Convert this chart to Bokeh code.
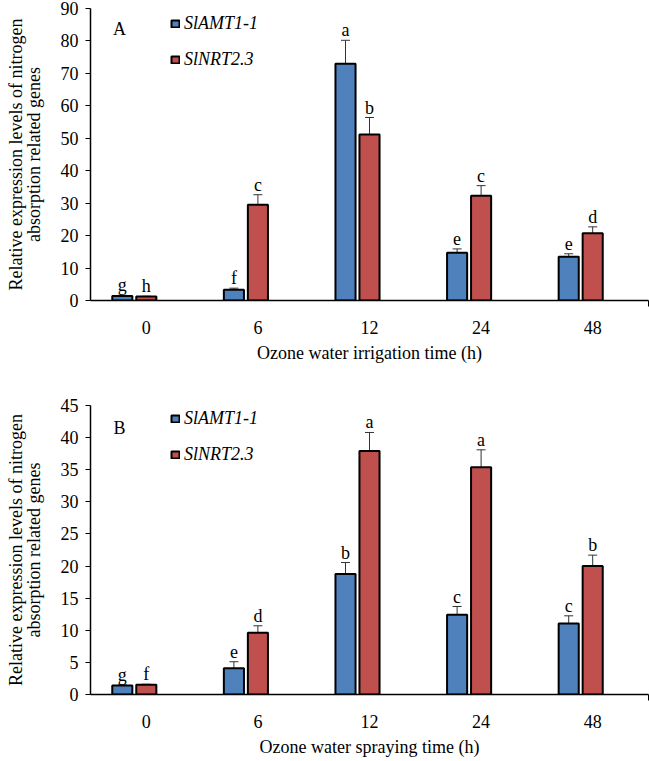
from bokeh.plotting import figure
from bokeh.layouts import column
from bokeh.models import (ColumnDataSource, FixedTicker, Whisker, TeeHead, Legend,
                          LegendItem, Label)
from bokeh.core.properties import value
from bokeh.embed import file_html
from bokeh.resources import INLINE

hours = ["0", "6", "12", "24", "48"]

a_amt = [1.4, 3.3, 73.0, 14.7, 13.5]
a_amt_err = [0.2, 0.5, 7.2, 1.2, 0.9]
a_nrt = [1.2, 29.5, 51.2, 32.3, 20.7]
a_nrt_err = [0.1, 3.1, 5.2, 3.1, 2.0]
a_amt_letters = ["g", "f", "a", "e", "e"]
a_nrt_letters = ["h", "c", "b", "c", "d"]

b_amt = [1.4, 4.1, 18.75, 12.4, 11.05]
b_amt_err = [0.1, 1.0, 1.8, 1.3, 1.2]
b_nrt = [1.5, 9.6, 37.9, 35.4, 20.0]
b_nrt_err = [0.1, 1.1, 2.9, 2.7, 1.7]
b_amt_letters = ["g", "e", "b", "c", "c"]
b_nrt_letters = ["f", "d", "a", "a", "b"]

series_names = ["SlAMT1-1", "SlNRT2.3"]
colors = ["#4F81BD", "#C0504D"]
ytitle = "Relative expression levels of nitrogen\nabsorption related genes"
FONT = "Liberation Serif"
FS = "18px"


def make_panel(amt, amt_err, nrt, nrt_err, amt_let, nrt_let, ymax, ystep,
               xtitle, panel_letter, height, border_top, border_bottom,
               legend_y, letter_y):
    p = figure(width=649, height=height, output_backend="svg", toolbar_location=None,
               x_range=(-0.5, 4.5), y_range=(0, ymax),
               min_border_left=90, min_border_right=1,
               min_border_top=border_top, min_border_bottom=border_bottom)
    p.grid.visible = False
    p.outline_line_color = None

    xs = list(range(len(hours)))
    offsets = [-0.215, 0.0]
    renderers = []
    for vals, errs, lets, off, col in [(amt, amt_err, amt_let, offsets[0], colors[0]),
                                       (nrt, nrt_err, nrt_let, offsets[1], colors[1])]:
        src = ColumnDataSource(dict(
            x=[x + off for x in xs], top=vals,
            upper=[v + e for v, e in zip(vals, errs)],
            lower=[v - e for v, e in zip(vals, errs)],
            let=lets))
        r = p.vbar(x="x", top="top", width=0.18, bottom=0, source=src,
                   fill_color=col, line_color="black", line_width=2)
        renderers.append(r)
        w = Whisker(base="x", upper="upper", lower="lower", source=src,
                    line_color="#333333", line_width=1,
                    upper_head=TeeHead(size=9, line_color="#333333", line_width=1),
                    lower_head=TeeHead(size=9, line_color="#333333", line_width=1))
        p.add_layout(w)
        p.text(x="x", y="upper", text="let", source=src, text_align="center",
               text_baseline="alphabetic", y_offset=-10,
               text_font=value(FONT), text_font_size=FS, text_color="black")

    legend = Legend(items=[LegendItem(label=series_names[0], renderers=[renderers[0]]),
                           LegendItem(label=series_names[1], renderers=[renderers[1]])],
                    location=(80, legend_y), orientation="vertical",
                    background_fill_alpha=0, border_line_color=None,
                    padding=0, margin=0, spacing=14, glyph_width=10, glyph_height=9,
                    label_standoff=4, label_height=22,
                    label_text_font=FONT, label_text_font_style="italic",
                    label_text_font_size=FS, label_text_color="black")
    p.add_layout(legend, "center")

    p.add_layout(Label(x=-0.24, y=letter_y, text=panel_letter, text_font=FONT,
                       text_font_size=FS, text_align="center",
                       text_baseline="middle", text_color="black"))

    # x axis
    xa = p.xaxis[0]
    xa.ticker = FixedTicker(ticks=xs, minor_ticks=[4.5])
    xa.major_label_overrides = {i: h for i, h in enumerate(hours)}
    xa.major_tick_out = 0
    xa.major_tick_in = 0
    xa.minor_tick_out = 6
    xa.minor_tick_in = 0
    xa.minor_tick_line_color = "black"
    xa.axis_line_color = "black"
    xa.axis_line_width = 1.5
    xa.major_label_standoff = 14
    xa.axis_label = xtitle
    xa.axis_label_standoff = 6
    xa.axis_label_text_font = FONT
    xa.axis_label_text_font_style = "normal"
    xa.axis_label_text_font_size = FS
    xa.axis_label_text_color = "black"
    xa.major_label_text_font = FONT
    xa.major_label_text_font_size = FS
    xa.major_label_text_color = "black"

    # y axis
    ya = p.yaxis[0]
    ya.ticker = FixedTicker(ticks=list(range(0, ymax + 1, ystep)))
    ya.major_tick_out = 5
    ya.major_tick_in = 0
    ya.minor_tick_out = 0
    ya.minor_tick_in = 0
    ya.major_tick_line_color = "black"
    ya.axis_line_color = "black"
    ya.axis_line_width = 1.5
    ya.major_label_standoff = 7
    ya.major_label_text_font = FONT
    ya.major_label_text_font_size = FS
    ya.major_label_text_color = "black"
    ya.axis_label = ytitle
    ya.axis_label_standoff = 14
    ya.axis_label_text_font = FONT
    ya.axis_label_text_font_style = "normal"
    ya.axis_label_text_font_size = FS
    ya.axis_label_text_line_height = 0.88
    ya.axis_label_text_color = "black"
    return p


pa = make_panel(a_amt, a_amt_err, a_nrt, a_nrt_err, a_amt_letters, a_nrt_letters,
                90, 10, "Ozone water irrigation time (h)", "A",
                height=378, border_top=8, border_bottom=78,
                legend_y=230, letter_y=83.8)
pb = make_panel(b_amt, b_amt_err, b_nrt, b_nrt_err, b_amt_letters, b_nrt_letters,
                45, 5, "Ozone water spraying time (h)", "B",
                height=381, border_top=27, border_bottom=60,
                legend_y=229, letter_y=41.5)

layout = column(pa, pb, spacing=0)
open("out.html", "w").write(file_html(layout, INLINE))
